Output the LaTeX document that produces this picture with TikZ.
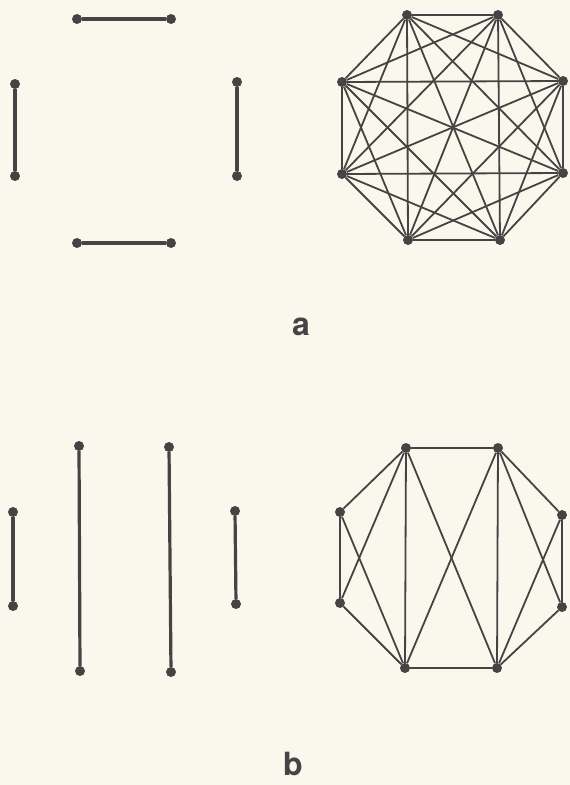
\documentclass[tikz,border=0pt]{standalone}
\usepackage{fontspec}
\setsansfont{TeX Gyre Heros}
\definecolor{paper}{RGB}{250,248,236}
\definecolor{ink}{RGB}{68,68,68}
\tikzset{
  dot/.style={circle, fill=ink, inner sep=0pt, minimum size=10pt},
  pairline/.style={draw=ink, line width=3.2pt},
  edge/.style={draw=ink, line width=1.8pt},
  tag/.style={font=\sffamily\bfseries\fontsize{32}{36}\selectfont, text=ink, inner sep=0pt}
}

\begin{document}
\begin{tikzpicture}[x=1pt,y=-1pt]
\fill[paper] (0,0) rectangle (570,785);
\useasboundingbox (0,0) rectangle (570,785);

% a: four separate pairs
\node[dot] (p1) at (77,19) {};
\node[dot] (p2) at (171,19) {};
\node[dot] (p3) at (15,84) {};
\node[dot] (p4) at (15,176) {};
\node[dot] (p5) at (237,82) {};
\node[dot] (p6) at (237,176) {};
\node[dot] (p7) at (77,243) {};
\node[dot] (p8) at (171,243) {};
\foreach \u/\v in {p1/p2, p3/p4, p5/p6, p7/p8}
  \draw[pairline] (\u) -- (\v);

% a: complete graph on eight points
\foreach \n/\x/\y in {1/407/15, 2/498/15, 3/563/81, 4/563/173, 5/500/240, 6/408/240, 7/342/174, 8/342/82}
  \node[dot] (a\n) at (\x,\y) {};
\foreach \i in {1,...,7}{
  \pgfmathtruncatemacro{\k}{\i+1}
  \foreach \j in {\k,...,8}
    \draw[edge] (a\i) -- (a\j);
}
\node[tag] (la) at (301,327) {a};

% b: four separate pairs
\node[dot] (q1) at (13,512) {};
\node[dot] (q2) at (13,606) {};
\node[dot] (q3) at (79,446) {};
\node[dot] (q4) at (80,671) {};
\node[dot] (q5) at (169,447) {};
\node[dot] (q6) at (171,672) {};
\node[dot] (q7) at (235,511) {};
\node[dot] (q8) at (236,604) {};
\foreach \u/\v in {q1/q2, q3/q4, q5/q6, q7/q8}
  \draw[pairline] (\u) -- (\v);

% b: two K4 joined by four edges
\foreach \n/\x/\y in {1/406/448, 2/498/448, 3/562/515, 4/562/607, 5/497/668, 6/405/668, 7/340/603, 8/340/512}
  \node[dot] (b\n) at (\x,\y) {};
\foreach \u/\v in {b1/b8, b1/b7, b1/b6, b8/b7, b8/b6, b7/b6,
                   b2/b3, b2/b4, b2/b5, b3/b4, b3/b5, b4/b5,
                   b1/b2, b6/b5, b1/b5, b2/b6}
  \draw[edge] (\u) -- (\v);
\node[tag] (lb) at (293,764) {b};
\end{tikzpicture}
\end{document}
